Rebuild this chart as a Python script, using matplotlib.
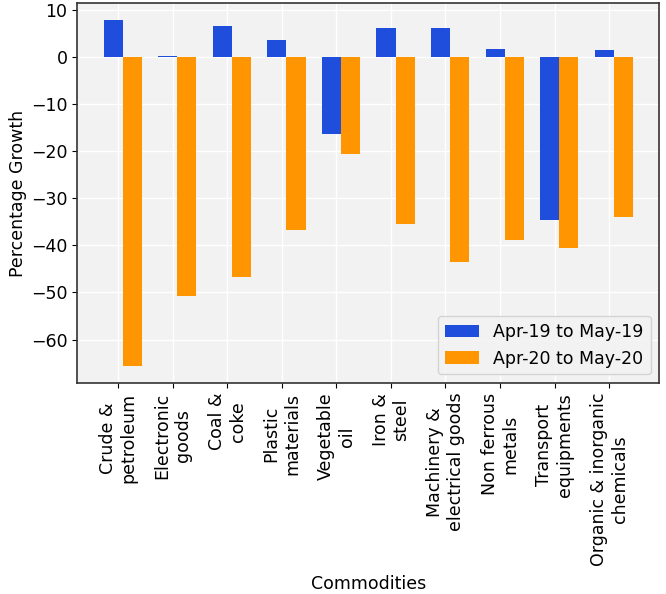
import numpy as np
import matplotlib
matplotlib.use("Agg")
import matplotlib.pyplot as plt

# ── data ───────────────────────────────────────────────────────────────────
COMMODITIES = [
    "Crude &\npetroleum",
    "Electronic\ngoods",
    "Coal &\ncoke",
    "Plastic\nmaterials",
    "Vegetable\noil",
    "Iron &\nsteel",
    "Machinery &\nelectrical goods",
    "Non ferrous\nmetals",
    "Transport\nequipments",
    "Organic & inorganic\nchemicals",
]
GROWTH_2019 = [7.9, 0.3, 6.7, 3.8, -16.2, 6.2, 6.2, 1.8, -34.6, 1.6]
GROWTH_2020 = [-65.6, -50.8, -46.7, -36.7, -20.6, -35.5, -43.6, -38.9, -40.6, -34.0]
LABELS = ["Apr-19 to May-19", "Apr-20 to May-20"]

BLUE = "#1f4ddc"
ORANGE = "#ff9500"

# ── figure ─────────────────────────────────────────────────────────────────
fig, ax = plt.subplots(figsize=(6.66, 5.94), dpi=100)
fig.subplots_adjust(left=0.116, right=0.99, top=0.995, bottom=0.355)
ax.set_facecolor("#f2f2f2")

w = 0.35
r = np.arange(len(COMMODITIES))
ax.bar(r, GROWTH_2019, width=w, color=BLUE, label=LABELS[0])
ax.bar(r + w, GROWTH_2020, width=w, color=ORANGE, label=LABELS[1])

ax.set_xticks(r + 0.09)
ax.set_xticklabels(COMMODITIES, rotation=90, fontsize=12.5, ha="center",
                   multialignment="center")
ax.tick_params(axis="y", labelsize=12.5)
ax.set_yticks(np.arange(-60, 11, 10))

ax.grid(True, color="white", linewidth=1.0)
ax.set_axisbelow(True)
for s in ax.spines.values():
    s.set_color("#333333")
    s.set_linewidth(1.2)

ax.set_xlabel("Commodities", fontsize=12.5, labelpad=6)
ax.set_ylabel("Percentage Growth", fontsize=12.5, labelpad=3)

ax.legend(loc="lower right", fontsize=12.5, facecolor="#f2f2f2",
          edgecolor="#cccccc", handlelength=2.0)

fig.savefig("out.png", dpi=100, facecolor="white")
plt.close(fig)
